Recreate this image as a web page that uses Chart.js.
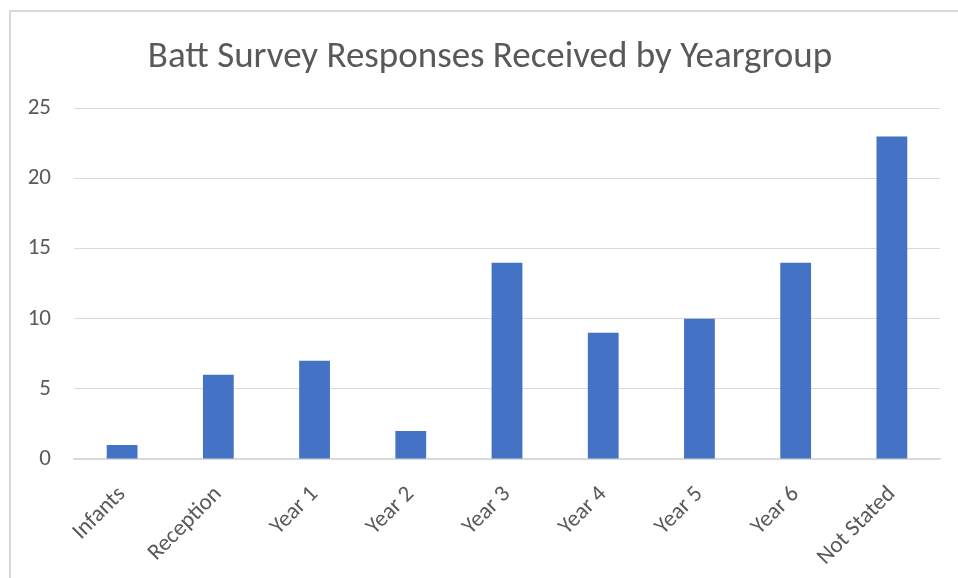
<!DOCTYPE html>
<html>
<head>
<meta charset="utf-8">
<script src="https://cdn.jsdelivr.net/npm/chart.js@4"></script>
<style>
  body { margin: 0; background: #fff; }
  #frame { position: absolute; left: 9px; top: 10px; width: 960px; height: 580px;
           border-left: 2px solid #d9d9d9; border-top: 2px solid #d9d9d9; }
  #chart { position: absolute; left: 0; top: 0; }
</style>
</head>
<body>
<div id="frame"></div>
<canvas id="chart" width="958" height="578"></canvas>
<script>
// data
const yearGroups = ['Infants', 'Reception', 'Year 1', 'Year 2', 'Year 3', 'Year 4', 'Year 5', 'Year 6', 'Not Stated'];
const responses = [1, 6, 7, 2, 14, 9, 10, 14, 23];
const yTicks = [0, 5, 10, 15, 20, 25];

const font = 'Carlito, "Open Sans", sans-serif';
const grey = '#595959';

const ctx = document.getElementById('chart').getContext('2d');
new Chart(ctx, {
    type: 'bar',
    data: {
        labels: yearGroups,
        datasets: [{
            label: 'Responses',
            data: responses,
            backgroundColor: '#4472C4',
            barPercentage: 0.32,
            categoryPercentage: 1
        }]
    },
    options: {
        responsive: false,
        animation: false,
        // left padding keeps the title centred on the frame
        layout: { padding: { left: 22, right: 0, top: 0, bottom: 0 } },
        plugins: {
            legend: { display: false },
            tooltip: { enabled: false },
            title: {
                display: true,
                text: 'Batt Survey Responses Received by Yeargroup',
                color: grey,
                font: { family: font, size: 37, weight: 'normal', lineHeight: 1.2 },
                padding: { top: 36, bottom: 28 }
            }
        },
        scales: {
            x: {
                grid: { display: false },
                border: { color: '#d9d9d9', width: 1.5 },
                ticks: {
                    color: grey, font: { family: font, size: 23 },
                    minRotation: 45, maxRotation: 45, autoSkip: false, padding: 14
                },
                afterFit: s => { s.height = 119; }
            },
            y: {
                min: 0, max: 25,
                afterBuildTicks: s => { s.ticks = yTicks.map(v => ({ value: v })); },
                grid: { color: '#d9d9d9', drawTicks: false },
                border: { display: false },
                ticks: { color: grey, font: { family: font, size: 23 }, padding: 23 },
                afterFit: s => { s.width = 52; }
            },
            // empty spacer on the right of the plot
            spacer: {
                type: 'linear', position: 'right',
                grid: { display: false }, border: { display: false },
                ticks: { display: false },
                afterFit: s => { s.width = 18; }
            }
        }
    }
});
</script>
</body>
</html>
